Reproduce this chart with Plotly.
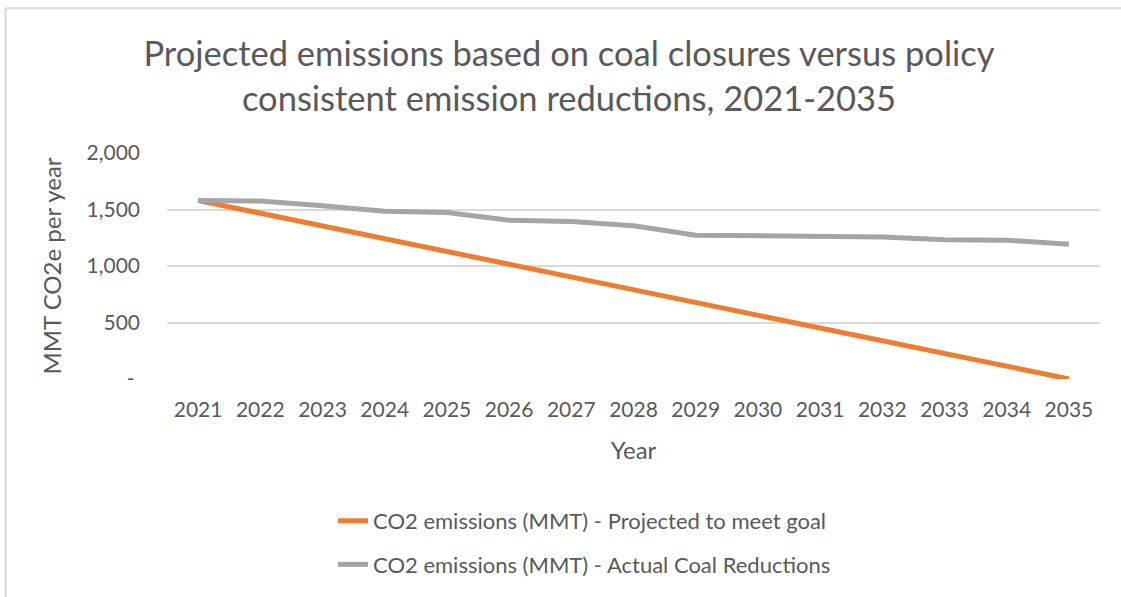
import plotly.graph_objects as go

years = ["2021", "2022", "2023", "2024", "2025", "2026", "2027", "2028",
         "2029", "2030", "2031", "2032", "2033", "2034", "2035"]
projected = [1580, 1467, 1354, 1241, 1129, 1016, 903, 790, 677, 564, 451, 339, 226, 113, 0]
actual = [1580, 1575, 1533, 1484, 1474, 1405, 1393, 1357, 1273, 1270, 1267, 1256, 1232, 1228, 1192]
y_tickvals = [0, 500, 1000, 1500, 2000]
y_ticktext = ["-\u00a0", "500", "1,000", "1,500", "2,000"]

FONT = "Lato"
TXT = "#595959"

fig = go.Figure()
fig.add_trace(go.Scatter(
    x=years, y=projected, mode="lines",
    name="CO2 emissions (MMT) - Projected to meet goal",
    line=dict(color="#ED7D31", width=5), legendgroup="a"))
fig.add_trace(go.Scatter(
    x=years, y=actual, mode="lines",
    name="CO2 emissions (MMT) - Actual Coal Reductions",
    line=dict(color="#A5A5A5", width=5), legendgroup="b"))

W, H = 1121, 597
L, R, T, B = 167, 21, 152.5, 217.5
pw, ph = W - L - R, H - T - B

fig.update_layout(
    width=W, height=H,
    margin=dict(l=L, r=R, t=T, b=B, autoexpand=False),
    paper_bgcolor="white", plot_bgcolor="white",
    font=dict(family=FONT, color=TXT, size=21),
    title=dict(
        text="Projected emissions based on coal closures versus policy<br>consistent emission reductions, 2021-2035",
        x=569 / W, xanchor="center", y=1 - 66 / H, yanchor="top",
        font=dict(family=FONT, size=34.5, color=TXT)),
    xaxis=dict(
        type="category", range=[-0.5, 14.5], showgrid=False, showline=False,
        zeroline=False, ticks="", tickfont=dict(size=21, color=TXT),
        ticklabelstandoff=16,
        title=dict(text="Year", font=dict(size=24, color=TXT), standoff=22)),
    yaxis=dict(
        range=[0, 2000], tickvals=y_tickvals, ticktext=y_ticktext,
        showgrid=True, gridcolor="#D9D9D9", gridwidth=1.5,
        zeroline=False, showline=False, ticks="", ticklabelstandoff=26,
        tickfont=dict(size=21, color=TXT),
        title=dict(text="MMT CO2e per year", font=dict(size=24, color=TXT), standoff=18)),
    legend=dict(
        orientation="v", x=(333 - L) / pw, xanchor="left", y=(379.5 - 501) / ph, yanchor="top",
        font=dict(size=22, color=TXT), tracegroupgap=12, itemwidth=30,
        bgcolor="rgba(0,0,0,0)"),
    showlegend=True,
)

# chart-area border (top and left edges visible in the crop)
fig.add_shape(type="line", xref="paper", yref="paper",
              x0=(5.5 - L) / pw, x1=(1125 - L) / pw,
              y0=(H - B - 7) / ph, y1=(H - B - 7) / ph,
              line=dict(color="#D9D9D9", width=2))
fig.add_shape(type="line", xref="paper", yref="paper",
              x0=(5.5 - L) / pw, x1=(5.5 - L) / pw,
              y0=(H - B - 7) / ph, y1=(H - B - 600) / ph,
              line=dict(color="#D9D9D9", width=2))

fig.write_html("out.html")
